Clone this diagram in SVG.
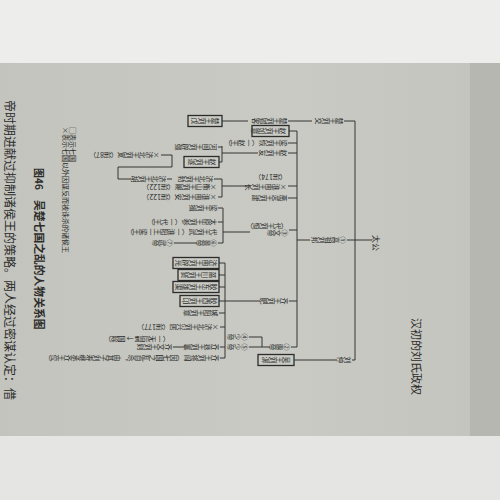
<svg xmlns="http://www.w3.org/2000/svg" width="500" height="500" viewBox="0 0 500 500">
<style>
.v{writing-mode:vertical-rl;font-family:"Noto Sans CJK SC","Noto Sans CJK JP",sans-serif;font-size:7px;fill:#2c2c2a}
.h{font-family:"Noto Sans CJK SC","Noto Sans CJK JP",sans-serif;fill:#2c2c2a}
.ln{fill:none;stroke:#353533;stroke-width:1}
.bx{fill:#cbccc6;stroke:#2c2c2a;stroke-width:1.3}
</style>
<defs>
<linearGradient id="pg" x1="0" y1="0" x2="1" y2="0">
<stop offset="0" stop-color="#c3c4be"/>
<stop offset="0.6" stop-color="#c9cac4"/>
<stop offset="1" stop-color="#c4c5bf"/>
</linearGradient>
</defs>
<rect width="500" height="500" fill="#ededeb"/>
<rect x="0" y="63" width="470" height="373" fill="url(#pg)"/>
<rect x="470" y="63" width="30" height="374" fill="#b6b7b1"/>
<rect x="0" y="436" width="500" height="64" fill="#e5e5e3"/>

<!-- page texts -->
<g id="heading"><text class="h" font-size="11" transform="translate(412,318) rotate(90)">汉初的刘氏政权</text></g>
<g id="caption"><text class="h" font-size="10" font-weight="700" transform="translate(35,168) rotate(90)">图46</text>
<text class="h" font-size="10.8" font-weight="700" transform="translate(35,200) rotate(90)">吴楚七国之乱的人物关系图</text></g>
<g id="legend"><text class="h" font-size="7" transform="translate(70,127) rotate(90)">□表示七国</text>
<text class="h" font-size="7" transform="translate(63,127) rotate(90)">×表示七国以外因谋反而被诛杀的诸侯王</text></g>
<g id="body"><text class="h" font-size="12" fill="#353533" transform="translate(5,100) rotate(90)">帝时期进献过抑制诸侯王的策略。两人经过密谋认定：借</text></g>

<!-- connectors -->
<g id="connectors" class="ln">
<path d="M355,121 V360"/>
<path d="M355,240 H372"/>
<path d="M355,121 H344 M312,121 H288 M248,121 H222"/>
<path d="M355,240 H347 M310,240 H297"/>
<path d="M297,131 V347"/>
<path d="M297,131 H289 M297,143 H288 M297,153 H288 M258,153 H222"/>
<path d="M222,146 V162 M222,147 H218 M222,162 H219"/>
<path d="M297,186 H288 M251,186 H222"/>
<path d="M222,179 V197 M222,179 H214 M172,179 H167 M131,179 H118 V167 H172 V155 H161 M222,197 H218"/>
<path d="M297,198 H288"/>
<path d="M297,230 H289 M250,232 H223"/>
<path d="M223,208 V243 M223,208 H218 M223,222 H218 M223,243 H218 M197,243 H174"/>
<path d="M297,301 H289 M260,301 H225"/>
<path d="M225,263 V358 M225,263 H219 M225,275 H219 M225,287 H219 M225,301 H219 M225,313 H219 M225,327 H220 M225,347 H220 M185,347 H173 M225,358 H220"/>
<path d="M297,347 H291 M270,347 H249 M262,347 V337 H249"/>
<path d="M355,360 H352 M337,360 H294"/>
</g>

<!-- nodes -->
<g id="taigong"><text class="h" font-size="8" transform="translate(373,235) rotate(90)">太公</text></g>
<g id="chu-liujiao"><text class="v" transform="translate(343,121) rotate(90)">楚王刘交</text></g>
<g id="chu-liuyingke"><text class="v" transform="translate(287,121) rotate(90)">楚王刘郢客</text></g>
<g id="chu-liuwu"><rect class="bx" x="188" y="115.5" width="34" height="11"/><text class="v" transform="translate(219,121) rotate(90)">楚王刘戊</text></g>
<g id="liubang"><text class="v" transform="translate(346,240) rotate(90)">①高祖刘邦</text></g>
<g id="zhao-ruyi"><rect class="bx" x="252" y="125.5" width="37" height="11"/><text class="v" font-size="6.4" transform="translate(286,131) rotate(90)">赵王刘如意</text></g>
<g id="liang-liuhui"><text class="v" transform="translate(287,143) rotate(90)">梁王刘恢（一赵王）</text></g>
<g id="zhao-liuyou"><text class="v" transform="translate(287,153) rotate(90)">赵王刘友</text></g>
<g id="hejian"><text class="v" font-size="6.3" transform="translate(217,147) rotate(90)">河间王刘辟彊</text></g>
<g id="zhao-liusui"><rect class="bx" x="184" y="156.5" width="35" height="11"/><text class="v" transform="translate(216,162) rotate(90)">赵王刘遂</text></g>
<g id="huainan-liuchang"><text class="v" transform="translate(287,187) rotate(90)">×淮南王刘长</text><text class="v" transform="translate(287,177) rotate(90)">（前174）</text></g>
<g id="jibei-liubo"><text class="v" transform="translate(213,179) rotate(90)">济北王刘勃</text></g>
<g id="jibei-liuhu"><text class="v" transform="translate(166,179) rotate(90)">济北王刘胡</text></g>
<g id="jibei-liukuan"><text class="v" transform="translate(160,155) rotate(90)">×济北王刘宽（前87）</text></g>
<g id="hengshan-liuci"><text class="v" transform="translate(217,187) rotate(90)">×衡山王刘赐（前122）</text></g>
<g id="huainan-liuan"><text class="v" transform="translate(217,197) rotate(90)">×淮南王刘安（前122）</text></g>
<g id="yan-liujian"><text class="v" transform="translate(287,198) rotate(90)">燕灵王刘建</text></g>
<g id="wendi"><text class="v" transform="translate(288,233) rotate(90)">③文帝</text><text class="v" transform="translate(288,226) rotate(90)">（代王刘恒）</text></g>
<g id="liang-liuyi"><text class="v" transform="translate(217,208) rotate(90)">梁王刘揖</text></g>
<g id="dai-liucan"><text class="v" transform="translate(217,222) rotate(90)">太原王刘参（一代王）</text></g>
<g id="liang-liuwu"><text class="v" transform="translate(217,232) rotate(90)">代王刘武（一淮阳王一梁王）</text></g>
<g id="jingdi"><text class="v" transform="translate(217,243) rotate(90)">⑥景帝</text></g>
<g id="wudi"><text class="v" transform="translate(173,243) rotate(90)">⑦武帝</text></g>
<g id="qi-liufei"><text class="v" transform="translate(288,301) rotate(90)">齐王刘肥</text></g>
<g id="jinan"><rect class="bx" x="173" y="257.5" width="46" height="11"/><text class="v" transform="translate(217,263) rotate(90)">济南王刘辟光</text></g>
<g id="zichuan"><rect class="bx" x="178" y="269.5" width="41" height="11"/><text class="v" transform="translate(216,275) rotate(90)">菑川王刘贤</text></g>
<g id="jiaodong"><rect class="bx" x="173" y="281.5" width="46" height="11"/><text class="v" transform="translate(217,287) rotate(90)">胶东王刘雄渠</text></g>
<g id="jiaoxi"><rect class="bx" x="180" y="295.5" width="39" height="11"/><text class="v" transform="translate(217,301) rotate(90)">胶西王刘卬</text></g>
<g id="chengyang"><text class="v" transform="translate(218,313) rotate(90)">城阳王刘章</text></g>
<g id="jibei-xingju"><text class="v" transform="translate(219,327) rotate(90)">×济北王刘兴居（前177）</text></g>
<g id="qi-liuxiang"><text class="v" transform="translate(219,347) rotate(90)">齐哀王刘襄</text></g>
<g id="qi-liuze"><text class="v" transform="translate(172,347) rotate(90)">齐文王刘则</text><text class="v" transform="translate(170,339) rotate(90)">（一无后嗣 → 国除）</text></g>
<g id="qi-jianglv"><text class="v" font-size="6.5" transform="translate(219,358) rotate(90)">齐王刘将闾（因七国之乱自杀，由其子刘寿继承齐王位）</text></g>
<g id="huidi"><text class="v" transform="translate(290,347) rotate(90)">②惠帝</text></g>
<g id="shaodi4"><text class="v" transform="translate(248,337) rotate(90)">④少帝</text></g>
<g id="shaodi5"><text class="v" transform="translate(248,347) rotate(90)">⑤少帝</text></g>
<g id="liuzhong"><text class="v" transform="translate(351,360) rotate(90)">刘仲</text></g>
<g id="wu-liubi"><rect class="bx" x="258" y="354.5" width="36" height="11"/><text class="v" transform="translate(290,360) rotate(90)">吴王刘濞</text></g>
</svg>
